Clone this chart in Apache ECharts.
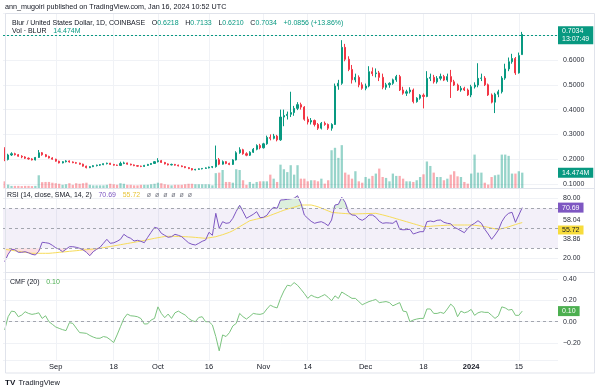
<!DOCTYPE html>
<html><head><meta charset="utf-8">
<script src="https://cdn.jsdelivr.net/npm/echarts@6.0.0/dist/echarts.min.js"></script>
<style>html,body{margin:0;padding:0;background:#fff}#c{width:600px;height:392px}</style>
</head><body><div id="c"></div>
<script>
// ---- categories (daily, Aug 17 2023 .. Jan 26 2024; last 10 days empty) ----
const firstDay = [2023, 7, 17];
const dayCount = 163;
const tickLabels = {'2023-09-01':'Sep','2023-09-18':'18','2023-10-01':'Oct','2023-10-16':'16','2023-11-01':'Nov',
  '2023-11-14':'14','2023-12-01':'Dec','2023-12-18':'18','2024-01-01':'2024','2024-01-15':'15'};

// ---- BLUR/USD daily OHLC ----
const openP = [0.244,0.199,0.217,0.222,0.218,0.212,0.209,0.204,0.201,0.197,
 0.207,0.226,0.218,0.211,0.205,0.200,0.192,0.185,0.190,0.193,
 0.189,0.186,0.184,0.180,0.172,0.166,0.170,0.174,0.176,0.178,
 0.182,0.184,0.179,0.176,0.175,0.183,0.185,0.180,0.177,0.174,
 0.172,0.171,0.175,0.179,0.183,0.190,0.194,0.187,0.181,0.177,
 0.179,0.176,0.173,0.170,0.166,0.162,0.157,0.159,0.161,0.163,
 0.165,0.168,0.170,0.198,0.180,0.190,0.183,0.179,0.197,0.226,
 0.238,0.222,0.216,0.228,0.240,0.255,0.246,0.262,0.288,0.284,
 0.293,0.278,0.370,0.376,0.381,0.388,0.405,0.420,0.410,0.361,
 0.350,0.356,0.340,0.325,0.345,0.340,0.325,0.340,0.495,0.506,
 0.651,0.603,0.562,0.520,0.530,0.500,0.486,0.495,0.553,0.545,
 0.548,0.530,0.490,0.500,0.506,0.520,0.533,0.479,0.466,0.472,
 0.479,0.432,0.446,0.458,0.453,0.526,0.530,0.512,0.526,0.533,
 0.519,0.533,0.512,0.499,0.479,0.486,0.479,0.459,0.492,0.499,
 0.526,0.527,0.500,0.459,0.430,0.462,0.472,0.527,0.564,0.593,
 0.606,0.548,0.6218];
const highP = [0.248,0.222,0.228,0.226,0.221,0.216,0.212,0.207,0.204,0.209,
 0.237,0.229,0.221,0.214,0.208,0.202,0.194,0.192,0.196,0.195,
 0.191,0.189,0.186,0.182,0.174,0.172,0.176,0.178,0.180,0.183,
 0.186,0.185,0.181,0.178,0.190,0.190,0.186,0.182,0.179,0.176,
 0.174,0.177,0.181,0.184,0.192,0.204,0.197,0.189,0.183,0.182,
 0.181,0.178,0.175,0.172,0.168,0.164,0.161,0.163,0.164,0.167,
 0.170,0.172,0.255,0.205,0.195,0.192,0.186,0.200,0.232,0.248,
 0.242,0.228,0.232,0.245,0.260,0.262,0.266,0.295,0.300,0.302,
 0.298,0.400,0.400,0.392,0.472,0.415,0.430,0.428,0.414,0.372,
 0.366,0.360,0.346,0.350,0.352,0.344,0.345,0.505,0.520,0.680,
 0.665,0.615,0.580,0.545,0.538,0.510,0.505,0.575,0.570,0.566,
 0.556,0.545,0.508,0.510,0.525,0.540,0.540,0.492,0.480,0.490,
 0.485,0.450,0.462,0.465,0.555,0.545,0.540,0.535,0.545,0.540,
 0.545,0.560,0.520,0.505,0.495,0.492,0.485,0.500,0.510,0.587,
 0.545,0.535,0.505,0.465,0.468,0.480,0.535,0.585,0.610,0.625,
 0.612,0.630,0.7133];
const lowP = [0.192,0.195,0.213,0.215,0.210,0.204,0.201,0.198,0.195,0.195,
 0.205,0.214,0.208,0.203,0.198,0.190,0.183,0.183,0.187,0.186,
 0.184,0.182,0.178,0.170,0.163,0.164,0.168,0.171,0.173,0.176,
 0.179,0.177,0.174,0.173,0.174,0.180,0.178,0.175,0.172,0.170,
 0.168,0.169,0.173,0.177,0.181,0.187,0.185,0.179,0.175,0.175,
 0.174,0.171,0.168,0.164,0.160,0.155,0.155,0.157,0.159,0.161,
 0.163,0.164,0.166,0.176,0.178,0.180,0.176,0.177,0.195,0.222,
 0.218,0.212,0.213,0.225,0.236,0.240,0.243,0.258,0.276,0.280,
 0.272,0.274,0.333,0.360,0.370,0.375,0.398,0.400,0.355,0.340,
 0.340,0.332,0.318,0.320,0.335,0.318,0.315,0.338,0.480,0.500,
 0.595,0.555,0.505,0.510,0.490,0.480,0.478,0.490,0.535,0.530,
 0.515,0.482,0.480,0.488,0.500,0.512,0.475,0.460,0.455,0.465,
 0.425,0.428,0.440,0.405,0.450,0.515,0.505,0.505,0.518,0.515,
 0.512,0.447,0.495,0.475,0.472,0.475,0.455,0.450,0.485,0.490,
 0.515,0.495,0.455,0.425,0.386,0.450,0.465,0.520,0.555,0.585,
 0.540,0.545,0.6210];
const closeP = [0.199,0.217,0.222,0.218,0.212,0.209,0.204,0.201,0.197,0.207,
 0.226,0.218,0.211,0.205,0.200,0.192,0.185,0.190,0.193,0.189,
 0.186,0.184,0.180,0.172,0.166,0.170,0.174,0.176,0.178,0.182,
 0.184,0.179,0.176,0.175,0.183,0.185,0.180,0.177,0.174,0.172,
 0.171,0.175,0.179,0.183,0.190,0.194,0.187,0.181,0.177,0.179,
 0.176,0.173,0.170,0.166,0.162,0.157,0.159,0.161,0.163,0.165,
 0.168,0.170,0.198,0.180,0.190,0.183,0.179,0.197,0.226,0.238,
 0.222,0.216,0.228,0.240,0.255,0.246,0.262,0.288,0.284,0.293,
 0.278,0.370,0.376,0.381,0.388,0.405,0.420,0.410,0.361,0.350,
 0.356,0.340,0.325,0.345,0.340,0.325,0.340,0.495,0.506,0.651,
 0.603,0.562,0.520,0.530,0.500,0.486,0.495,0.553,0.545,0.548,
 0.530,0.490,0.500,0.506,0.520,0.533,0.479,0.466,0.472,0.479,
 0.432,0.446,0.458,0.453,0.526,0.530,0.512,0.526,0.533,0.519,
 0.533,0.512,0.499,0.479,0.486,0.479,0.459,0.492,0.499,0.526,
 0.527,0.500,0.459,0.430,0.462,0.472,0.527,0.564,0.593,0.606,
 0.548,0.6178,0.7034];
// volume, millions of BLUR
const volumeM = [6.3,3.2,2,2,2,1.8,2,2,1.8,2,
 12,5.5,5.7,5.7,5,4.5,4,3,3.5,4.5,
 3,4.5,4,4.5,5,3,2.5,2.5,2.5,2.5,
 3,4,3.5,3,4.5,4,3,3,2.5,2.5,
 3,3,3,3.5,4,5,4.5,3.5,3,2.5,
 3,3,3,3.5,4,4,3.5,3.5,3.5,3.5,
 3.5,2.5,14,14.5,17,5.7,5.7,5,17.7,17,
 7.3,3,5.7,4,5.7,6.3,6.3,6.3,12.6,8.8,
 5.7,22,17.7,15,21.5,12.6,21.5,8.8,8.8,6.3,
 7.3,7.3,6.3,8.8,4.1,7.3,35.6,37.9,28.4,40.4,
 14.5,12.6,8.8,15.8,6.3,5,10.4,8.8,11.4,13.6,
 18.3,10.4,9.5,6.3,13.6,11.4,11.4,8.8,6.3,6.3,
 5.7,7.3,10.4,12.9,25,20.8,14.5,10.4,10.4,7.3,
 8.8,12.6,15.8,11,10.4,5.7,4.1,13.6,31.5,14.5,
 14.5,5,3.2,10.4,12,12.6,31.5,31.5,30.3,13.6,
 13.6,15.8,14.474];
// RSI(14) and its SMA(14)
const rsi = [16.6,24,29,28.5,26,26,26.6,25.5,24,23.3,
 27,36,35.6,35,33,30.5,29,26.6,29,31.6,
 31.6,31,30,28.5,26,22.6,26.6,29,31,35,
 39,35,35.5,37,39,44,41.5,40,37.3,38,
 37,35.6,41,46,51,50,45,43,41,41.6,
 44,43,41.6,38.5,35.5,34,33.3,35,37,38.3,
 46,43,65,50,56.6,55,55.5,60,67,73,
 66.6,60,62,64,66.6,60.6,61,63,68,71,
 70,78.3,78.5,79,79.5,80,82.6,75,63.3,60,
 57,55,56,56.6,55,52.6,58.3,73.3,74,81,
 76,66,63.3,63,59.5,58,60,63.3,63.3,61,
 57,55,55.5,55.3,55,57.6,49,48.5,48.7,49,
 44.3,45.5,46.6,46.6,56.6,57.3,56.6,58,58.3,56,
 55,54.5,51,49.5,47.5,45.6,50,53,55,57.6,
 55,49,44.3,39,43.3,48.3,56.6,62,65,66,
 56,63.3,70.69];
const rsiSma = [29,28.5,28,27.5,27,26.5,26,25.5,25,25,
 25,25,25,25,25.3,25.6,26,26.3,26.6,27,
 27.3,27.6,28,28.3,28.6,29,29.3,29.6,30,30.6,
 31.2,31.8,32.4,33,33.6,34.2,34.8,35.4,36,36.6,
 37.2,37.8,38.6,39.3,40,40.6,41.2,41.8,42,42,
 42,41.8,41.7,41.6,41.4,41.2,40.9,40.6,40.3,40,
 40.5,41,41.6,42.6,43.6,44.8,46,47.6,49.6,51.6,
 53.6,55.6,57.6,58.4,59.2,60,60.8,61.6,62.9,64.2,
 65.5,66.8,68.1,69.1,70.1,71.1,72.2,73.3,73.3,73.3,
 73.3,72.5,71.5,70.2,68.8,67.4,66,65.6,65.3,65,
 64.8,64.5,64.3,64.4,64.5,64.6,64.7,64.8,64.9,65,
 64.2,63.4,62.5,61.6,60.6,59.6,58.6,57.6,56.6,55.6,
 54.6,53.6,52.6,51.6,51.8,52,52.3,52.5,52.7,52.9,
 53.1,53.3,53.3,53.3,53.3,53.3,53.3,53.3,53,52.6,
 52.2,51.6,51,50.2,49.5,49,49.7,50.5,51.5,52.6,
 53.7,54.8,55.72];
// Chaikin Money Flow (20)
const cmf = [-0.078,0.047,0.10,0.094,0.047,0.063,0.094,0.078,0.069,0.075,
 0.084,0.031,0.056,0,-0.025,-0.05,-0.063,-0.075,-0.084,-0.009,
 -0.016,-0.06,-0.103,-0.106,-0.11,-0.13,-0.145,-0.156,-0.156,-0.14,
 -0.147,-0.17,-0.197,-0.125,-0.047,0.03,0.072,0.056,0.053,0.047,
 0.03,-0.022,-0.02,0.016,0.031,0.14,0.078,0.038,0.072,0.031,
 0.084,0.1,0.08,0.063,0.031,0.01,0,0.04,0.047,0,
 0,-0.031,-0.14,-0.275,-0.125,-0.14,-0.103,-0.04,-0.016,0.078,
 0.047,0.025,0.05,0.078,0.072,0.069,0.078,0.12,0.156,0.14,
 0.13,0.22,0.29,0.344,0.338,0.369,0.344,0.306,0.266,0.22,
 0.25,0.235,0.225,0.24,0.256,0.23,0.197,0.244,0.219,0.28,
 0.26,0.24,0.22,0.22,0.19,0.16,0.175,0.19,0.2,0.21,
 0.18,0.185,0.19,0.18,0.15,0.165,0.18,0.1,0.094,0,
 0.016,0.025,0.031,0.031,0.12,0.12,0.078,0.078,0.088,0.078,
 0.12,0.166,0.135,0.047,0.1,0.084,0.094,0.116,0.06,0.084,
 0.094,0.088,0.088,0.06,0.031,0.056,0.14,0.13,0.11,0.116,
 0.06,0.06,0.10];

// ---- build ----
const dates = [];
for (let i = 0; i < dayCount; i++) {
  dates.push(new Date(Date.UTC(firstDay[0], firstDay[1], firstDay[2] + i)).toISOString().slice(0, 10));
}
const UP = '#089981', DN = '#f23645';
const UPV = 'rgba(8,153,129,0.42)', DNV = 'rgba(242,54,69,0.42)';
const GRID = '#f0f2f6';
const FONT = 'Liberation Sans, Arial, sans-serif';
const candles = openP.map((o, i) => [o, closeP[i], lowP[i], highP[i]]);
const volData = volumeM.map((v, i) => ({ value: v, itemStyle: { color: closeP[i] >= openP[i] ? UPV : DNV } }));
const obBase = rsi.map(() => 70), obTop = rsi.map(v => Math.max(v - 70, 0));
const osBase = rsi.map(v => Math.min(v, 30)), osTop = rsi.map(v => 30 - Math.min(v, 30));
const isTick = (i, v) => tickLabels[v] !== undefined;

function mkX(gi, showLabels) {
  return {
    type: 'category', gridIndex: gi, data: dates, boundaryGap: true,
    axisLine: { show: false }, axisTick: { show: false },
    axisLabel: {
      show: showLabels, interval: isTick, margin: 3, fontSize: 7.5, color: '#131722', fontFamily: FONT,
      formatter: v => v === '2024-01-01' ? '{b|2024}' : tickLabels[v],
      rich: { b: { fontWeight: 'bold', fontSize: 7.5, color: '#131722', fontFamily: FONT } }
    },
    splitLine: { show: true, alignWithLabel: true, interval: isTick, lineStyle: { color: GRID, width: 1 } }
  };
}
const axisTxt = { fontSize: 7, color: '#2a2e39', fontFamily: FONT };
function box(txt, bg, fg) {
  return { show: true, position: 'end', distance: 0, formatter: txt, backgroundColor: bg, color: fg,
    padding: [1, 4, 1, 4], fontSize: 7, fontFamily: FONT, lineHeight: 8, opacity: 1 };
}
function plain(txt) {
  return Object.assign({ show: true, position: 'end', distance: 5, formatter: txt, opacity: 1 }, axisTxt);
}
const hidden = { color: 'rgba(255,255,255,0)', width: 1, type: 'solid' };
const dash = { type: [3, 3], color: '#a3a6af', width: 1 };

const option = {
  animation: false,
  backgroundColor: '#ffffff',
  textStyle: { fontFamily: FONT },
  grid: [
    { left: 3, width: 555, top: 13, height: 175, outerBoundsMode: 'none' },
    { left: 3, width: 555, top: 188, height: 84, outerBoundsMode: 'none' },
    { left: 3, width: 555, top: 272, height: 88, outerBoundsMode: 'none' }
  ],
  xAxis: [mkX(0, false), mkX(1, false), mkX(2, true)],
  yAxis: [
    { type: 'value', gridIndex: 0, position: 'right', min: 0.08387, max: 0.78952, splitNumber: 7,
      axisLine: { show: false }, axisTick: { show: false },
      axisLabel: Object.assign({ margin: 5, showMinLabel: false, showMaxLabel: false,
        formatter: v => (Math.abs(v * 10 - Math.round(v * 10)) < 1e-6 && v < 0.65) ? v.toFixed(4) : '' }, axisTxt),
      splitLine: { lineStyle: { color: GRID } } },
    { type: 'value', gridIndex: 0, min: 0, max: 165, show: false },
    { type: 'value', gridIndex: 1, min: 6.3, max: 90.3, show: false },
    { type: 'value', gridIndex: 2, position: 'right', min: -0.3613, max: 0.4689, splitNumber: 5,
      axisLine: { show: false }, axisTick: { show: false },
      axisLabel: Object.assign({ margin: 5, showMinLabel: false, showMaxLabel: false,
        formatter: v => {
          if (Math.abs(v * 5 - Math.round(v * 5)) > 1e-6) return '';
          return v < 0 ? '\u2212' + Math.abs(v).toFixed(2) : v.toFixed(2);
        } }, axisTxt),
      splitLine: { lineStyle: { color: GRID } } }
  ],
  series: [
    { type: 'bar', name: 'Vol', xAxisIndex: 0, yAxisIndex: 1, data: volData, barWidth: 2.3, z: 1,
      markLine: { symbol: ['none', 'none'], silent: true, animation: false,
        data: [{ yAxis: 14.474, lineStyle: hidden, label: box('14.474M', UP, '#ffffff') }] } },
    { type: 'candlestick', name: 'BLUR', xAxisIndex: 0, yAxisIndex: 0, data: candles, barWidth: 1.6, z: 3,
      itemStyle: { color: UP, color0: DN, borderColor: UP, borderColor0: DN, borderWidth: 1 },
      markLine: { symbol: ['none', 'none'], silent: true, animation: false,
        data: [{ yAxis: 0.7034, lineStyle: { type: [2, 2], color: UP, width: 1 },
          label: box('0.7034\n13:07:49', UP, '#ffffff') }] } },
    { type: 'line', name: 'obBase', xAxisIndex: 1, yAxisIndex: 2, data: obBase, stack: 'ob', symbol: 'none',
      lineStyle: { opacity: 0 }, silent: true, z: 1 },
    { type: 'line', name: 'obTop', xAxisIndex: 1, yAxisIndex: 2, data: obTop, stack: 'ob', symbol: 'none',
      lineStyle: { opacity: 0 }, areaStyle: { color: 'rgba(76,175,80,0.28)' }, silent: true, z: 1 },
    { type: 'line', name: 'osBase', xAxisIndex: 1, yAxisIndex: 2, data: osBase, stack: 'os', symbol: 'none',
      lineStyle: { opacity: 0 }, silent: true, z: 1 },
    { type: 'line', name: 'osTop', xAxisIndex: 1, yAxisIndex: 2, data: osTop, stack: 'os', symbol: 'none',
      lineStyle: { opacity: 0 }, areaStyle: { color: 'rgba(242,54,69,0.22)' }, silent: true, z: 1 },
    { type: 'line', name: 'RSI-based MA', xAxisIndex: 1, yAxisIndex: 2, data: rsiSma, symbol: 'none', z: 3,
      lineStyle: { color: '#f7dc5a', width: 1 } },
    { type: 'line', name: 'RSI', xAxisIndex: 1, yAxisIndex: 2, data: rsi, symbol: 'none', z: 4,
      lineStyle: { color: '#7e57c2', width: 1 },
      markArea: { silent: true, itemStyle: { color: 'rgba(126,87,194,0.09)' }, data: [[{ yAxis: 30 }, { yAxis: 70 }]] },
      markLine: { symbol: ['none', 'none'], silent: true, animation: false, data: [
        { yAxis: 80, lineStyle: { color: GRID, width: 1, type: 'solid' }, label: plain('80.00') },
        { yAxis: 20, lineStyle: { color: GRID, width: 1, type: 'solid' }, label: plain('20.00') },
        { yAxis: 70, lineStyle: dash, label: { show: false } },
        { yAxis: 50, lineStyle: dash, label: { show: false } },
        { yAxis: 30, lineStyle: dash, label: { show: false } },
        { yAxis: 58.04, lineStyle: hidden, label: plain('58.04') },
        { yAxis: 38.86, lineStyle: hidden, label: plain('38.86') },
        { yAxis: 70.69, lineStyle: hidden, label: box('70.69', '#7e57c2', '#ffffff') }
      ] } },
    { type: 'line', name: 'CMF', xAxisIndex: 2, yAxisIndex: 3, data: cmf, symbol: 'none', z: 3,
      lineStyle: { color: '#7cc47f', width: 1 },
      markLine: { symbol: ['none', 'none'], silent: true, animation: false, data: [
        { yAxis: 0, lineStyle: dash, label: { show: false } },
        { yAxis: 0.10, lineStyle: hidden, label: box('0.10', '#4caf50', '#ffffff') }
      ] } }
  ],
  graphic: [
    { type: 'rect', silent: true, z: 50, shape: { x: 5.5, y: 13.5, width: 589, height: 359.5 },
      style: { fill: 'none', stroke: '#e0e3eb', lineWidth: 1 } },
    { type: 'line', silent: true, z: 50, shape: { x1: 5, y1: 188.5, x2: 595, y2: 188.5 }, style: { stroke: '#e0e3eb', lineWidth: 1 } },
    { type: 'line', silent: true, z: 50, shape: { x1: 5, y1: 272.5, x2: 595, y2: 272.5 }, style: { stroke: '#e0e3eb', lineWidth: 1 } },
    { type: 'text', silent: true, z: 60, style: { x: 5, y: 7, verticalAlign: 'middle',
      text: 'ann_mugoiri published on TradingView.com, Jan 16, 2024 10:52 UTC',
      fontSize: 7.2, fontFamily: FONT, fill: '#131722' } },
    { type: 'text', silent: true, z: 60, style: { x: 12, y: 22.7, verticalAlign: 'middle',
      text: '{a|Blur / United States Dollar, 1D, COINBASE}  {a|O}{v|0.6218}  {a|H}{v|0.7133}  {a|L}{v|0.6210}  {a|C}{v|0.7034}  {v|+0.0856 (+13.86%)}',
      rich: { a: { fontSize: 7, fontFamily: FONT, fill: '#131722' }, v: { fontSize: 7, fontFamily: FONT, fill: UP } } } },
    { type: 'text', silent: true, z: 60, style: { x: 12, y: 31.3, verticalAlign: 'middle',
      text: '{a|Vol \u00b7 BLUR}  {v|14.474M}',
      rich: { a: { fontSize: 7, fontFamily: FONT, fill: '#131722' }, v: { fontSize: 7, fontFamily: FONT, fill: UP } } } },
    { type: 'text', silent: true, z: 60, style: { x: 7, y: 195, verticalAlign: 'middle',
      text: '{a|RSI (14, close, SMA, 14, 2)}  {p|70.69}  {y|55.72}  {g|\u00f8  \u00f8  \u00f8  \u00f8  \u00f8  \u00f8}',
      rich: { a: { fontSize: 7, fontFamily: FONT, fill: '#131722' }, p: { fontSize: 7, fontFamily: FONT, fill: '#7e57c2' },
        y: { fontSize: 7, fontFamily: FONT, fill: '#e8c53a' }, g: { fontSize: 7, fontFamily: FONT, fill: '#787b86' } } } },
    { type: 'text', silent: true, z: 60, style: { x: 558, y: 230, verticalAlign: 'middle', text: '55.72',
      fontSize: 7, fontFamily: FONT, fill: '#131722', backgroundColor: '#f7dc3c', padding: [1, 4, 1, 4] } },
    { type: 'text', silent: true, z: 60, style: { x: 10, y: 282.3, verticalAlign: 'middle',
      text: '{a|CMF (20)}  {v|0.10}',
      rich: { a: { fontSize: 7, fontFamily: FONT, fill: '#131722' }, v: { fontSize: 7, fontFamily: FONT, fill: '#4caf50' } } } },
    { type: 'text', silent: true, z: 60, style: { x: 5, y: 383, verticalAlign: 'middle',
      text: '{l|TV} {a|TradingView}',
      rich: { l: { fontSize: 8, fontWeight: 'bold', fontFamily: FONT, fill: '#131722' },
        a: { fontSize: 7.5, fontFamily: FONT, fill: '#131722' } } } }
  ]
};
const chart = echarts.init(document.getElementById('c'), null, { renderer: 'canvas' });
chart.setOption(option);
</script></body></html>
